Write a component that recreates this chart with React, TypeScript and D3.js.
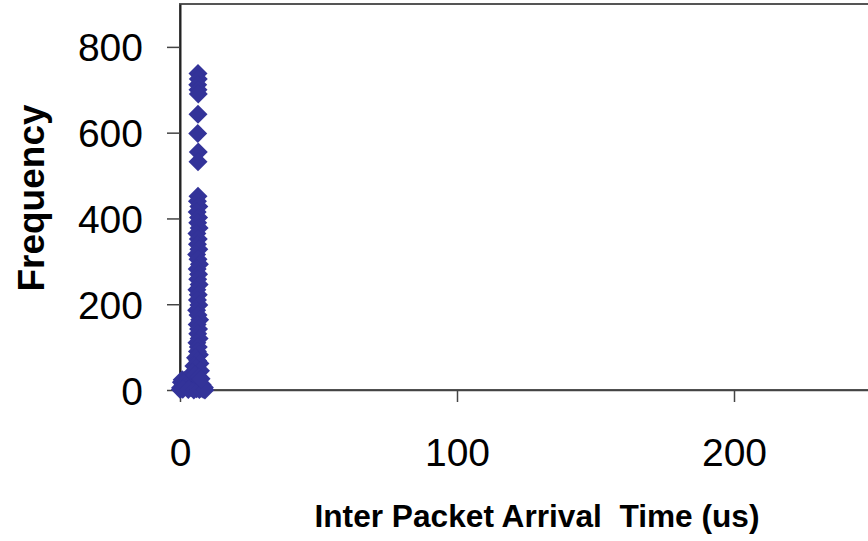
import React, { useEffect, useRef } from "react";
import * as d3 from "d3";

// x-axis ticks and y-axis ticks
const xTicks = [0, 100, 200];
const yTicks = [0, 200, 400, 600, 800];

// peak of the distribution (top of the column)
const peakIat = [6.5, 6.6, 6.4, 6.5, 6.6, 6.5, 6.4, 6.6, 6.5];
const peakFreq = [738, 725, 712, 700, 690, 643, 598, 555, 532];

// body of the column
const bodyIat = [
	6.5, 6.3, 6.8, 6.2, 6.7, 6.4, 6.9, 6.1, 6.6, 6.3, 6.8, 6.0, 6.5, 7.0, 6.2,
	6.7, 6.4, 6.9, 6.1, 6.6, 6.3, 6.8, 6.0, 6.5, 7.1, 6.2, 6.7, 6.4, 6.9, 6.1,
	6.6, 6.3, 7.0, 5.6, 6.4, 7.2, 5.0, 6.0, 7.4, 4.5, 5.5, 6.8, 7.6,
];
const bodyFreq = [
	452, 440, 428, 415, 402, 390, 378, 365, 352, 340, 328, 316, 305, 293, 282,
	270, 258, 246, 234, 222, 210, 198, 186, 175, 164, 153, 142, 131, 120, 110,
	100, 90, 82, 75, 68, 62, 56, 50, 45, 40, 35, 30, 26,
];

// low-frequency blob near zero
const lowIat = [
	0.2, 0.5, 0.8, 1.2, 1.5, 2.0, 2.4, 2.8, 3.2, 3.6, 4.0, 4.4, 4.8, 5.2, 5.6,
	6.0, 6.4, 6.8, 7.2, 7.6, 8.0, 8.4, 8.8, 0.1, 1.0, 3.0, 5.0, 7.0, 9.0,
];
const lowFreq = [
	5, 18, 24, 12, 22, 8, 20, 25, 14, 20, 6, 16, 22, 10, 18, 3, 14, 8, 16, 4,
	12, 2, 6, 1, 2, 1, 0, 1, 0,
];

const App = () => {
	const ref = useRef<SVGSVGElement>(null);

	useEffect(() => {
		const w = 868;
		const h = 541;
		const left = 180;
		const top = 4;
		const bottom = 390;

		const points = [
			...lowIat.map((x, i) => ({ x, y: lowFreq[i] })),
			...bodyIat.map((x, i) => ({ x, y: bodyFreq[i] })),
			...peakIat.map((x, i) => ({ x, y: peakFreq[i] })),
		];

		const xScale = d3.scaleLinear().domain([0, 250]).range([left, left + 692.5]);
		const yScale = d3.scaleLinear().domain([0, 900]).range([bottom, top]);

		const svg = d3.select(ref.current).html("");
		svg.attr("width", w).attr("height", h).style("background", "#fff");

		// plot area border
		svg
			.append("rect")
			.attr("x", left)
			.attr("y", top)
			.attr("width", xScale(250) - left)
			.attr("height", bottom - top)
			.attr("fill", "#fff")
			.attr("stroke", "#555")
			.attr("stroke-width", 2);

		// x-axis
		const xAxis = d3.axisBottom(xScale).tickValues(xTicks).tickSize(12).tickSizeOuter(0);
		const gx = svg
			.append("g")
			.attr("transform", `translate(0, ${bottom})`)
			.call(xAxis);
		gx.select(".domain").attr("stroke", "#444").attr("stroke-width", 1.5);
		gx.selectAll(".tick line").attr("stroke", "#444").attr("stroke-width", 1.5);
		gx
			.selectAll(".tick text")
			.attr("y", 76)
			.attr("dy", 0)
			.attr("fill", "#000")
			.style("font-family", "Liberation Sans, Arial, sans-serif")
			.style("font-size", "39px");

		// y-axis
		const yAxis = d3.axisLeft(yScale).tickValues(yTicks).tickSize(13).tickSizeOuter(0);
		const gy = svg
			.append("g")
			.attr("transform", `translate(${left}, 0)`)
			.call(yAxis);
		gy.select(".domain").attr("stroke", "#222").attr("stroke-width", 2);
		gy.selectAll(".tick line").attr("stroke", "#444").attr("stroke-width", 1.5);
		gy
			.selectAll(".tick text")
			.attr("x", -37)
			.attr("dy", "0.36em")
			.attr("fill", "#000")
			.style("font-family", "Liberation Sans, Arial, sans-serif")
			.style("font-size", "39px");

		// markers
		const diamond = d3.symbol().type(d3.symbolSquare).size(180);
		svg
			.append("g")
			.selectAll("path")
			.data(points)
			.join("path")
			.attr("d", diamond)
			.attr("transform", (d) => `translate(${xScale(d.x)}, ${yScale(d.y)}) rotate(45)`)
			.attr("fill", "#333399");

		// x-axis label (double space kept as in the original)
		svg
			.append("text")
			.attr("x", 537)
			.attr("y", 527)
			.attr("text-anchor", "middle")
			.attr("textLength", 445)
			.attr("lengthAdjust", "spacingAndGlyphs")
			.style("white-space", "pre")
			.style("font-family", "Liberation Sans, Arial, sans-serif")
			.style("font-weight", "bold")
			.style("font-size", "31px")
			.text("Inter Packet Arrival  Time (us)");

		// y-axis label
		svg
			.append("text")
			.attr("transform", "rotate(-90)")
			.attr("x", -198)
			.attr("y", 44)
			.attr("text-anchor", "middle")
			.style("font-family", "Liberation Sans, Arial, sans-serif")
			.style("font-weight", "bold")
			.style("font-size", "37px")
			.text("Frequency");
	}, []);

	return (
		<svg
			ref={ref}
			style={{ position: "absolute", left: 0, top: 0, display: "block" }}
		/>
	);
};

export default App;
